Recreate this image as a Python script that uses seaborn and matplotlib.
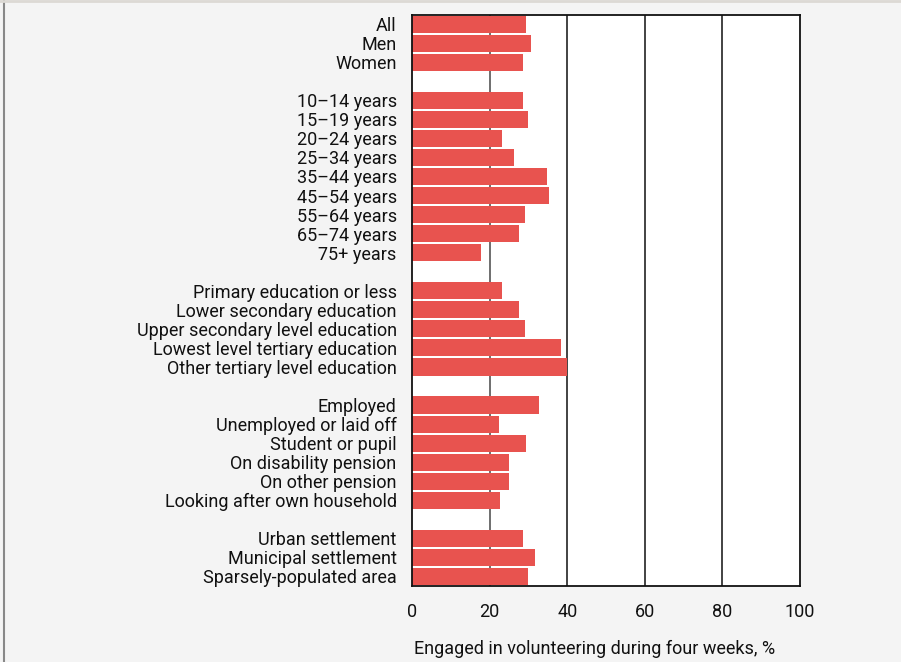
import matplotlib.pyplot as plt
import matplotlib.lines as mlines
import numpy as np
import pandas as pd
import seaborn as sns

# groups of categories, separated by empty rows in the chart
overall = ['All', 'Men', 'Women']
overall_vals = [29.5, 30.6, 28.5]

age = ['10\u201314 years', '15\u201319 years', '20\u201324 years', '25\u201334 years',
       '35\u201344 years', '45\u201354 years', '55\u201364 years', '65\u201374 years', '75+ years']
age_vals = [28.5, 30.0, 23.1, 26.4, 34.9, 35.2, 29.0, 27.7, 17.9]

education = ['Primary education or less', 'Lower secondary education',
             'Upper secondary level education', 'Lowest level tertiary education',
             'Other tertiary level education']
education_vals = [23.3, 27.7, 29.0, 38.5, 40.0]

activity = ['Employed', 'Unemployed or laid off', 'Student or pupil',
            'On disability pension', 'On other pension', 'Looking after own household']
activity_vals = [32.6, 22.3, 29.5, 24.9, 25.1, 22.6]

region = ['Urban settlement', 'Municipal settlement', 'Sparsely-populated area']
region_vals = [28.5, 31.8, 29.8]

x_ticks = [0, 20, 40, 60, 80, 100]
x_label = 'Engaged in volunteering during four weeks, %'

groups = [(overall, overall_vals), (age, age_vals), (education, education_vals),
          (activity, activity_vals), (region, region_vals)]

labels, values, order = [], [], []
for i, (cats, vals) in enumerate(groups):
    if i > 0:
        order.append(' ' * i)  # blank spacer row
    order += cats
    labels += cats
    values += vals
df = pd.DataFrame({'label': labels, 'value': values})

plt.rcParams['font.family'] = ['Roboto', 'DejaVu Sans']
fs = 13

bg = '#f4f4f4'
fig = plt.figure(figsize=(9.01, 6.62), dpi=100, facecolor=bg)
ax = fig.add_axes([0.4573, 0.1148, 0.4306, 0.8632])
ax.set_facecolor('white')

sns.barplot(data=df, x='value', y='label', order=order, orient='h',
            color='#e8534f', saturation=1, width=0.9, ax=ax, zorder=3)

ax.set_xlim(0, 100)
ax.set_xticks(x_ticks)
for t in x_ticks[1:-1]:
    ax.axvline(t, color='#222222' if t > 20 else '#555555', lw=1.2, zorder=1)
for s in ax.spines.values():
    s.set_color('#111111')
    s.set_linewidth(1.3)
    s.set_zorder(4)

ax.tick_params(axis='both', length=0, labelsize=fs, colors='#111111')
ax.tick_params(axis='y', pad=11)
ax.tick_params(axis='x', pad=12)
ax.set_ylabel('')
ax.set_xlabel(x_label, fontsize=fs, color='#111111', labelpad=14)
ax.xaxis.label.set_x(0.47)

# frame lines of the picture
fig.add_artist(mlines.Line2D([4 / 901, 4 / 901], [0, 1], color='#888888', lw=1.5))
fig.add_artist(mlines.Line2D([0, 1], [1 - 1 / 662, 1 - 1 / 662], color='#dcd9d4', lw=2))

fig.savefig('out.png', dpi=100, facecolor=bg)
